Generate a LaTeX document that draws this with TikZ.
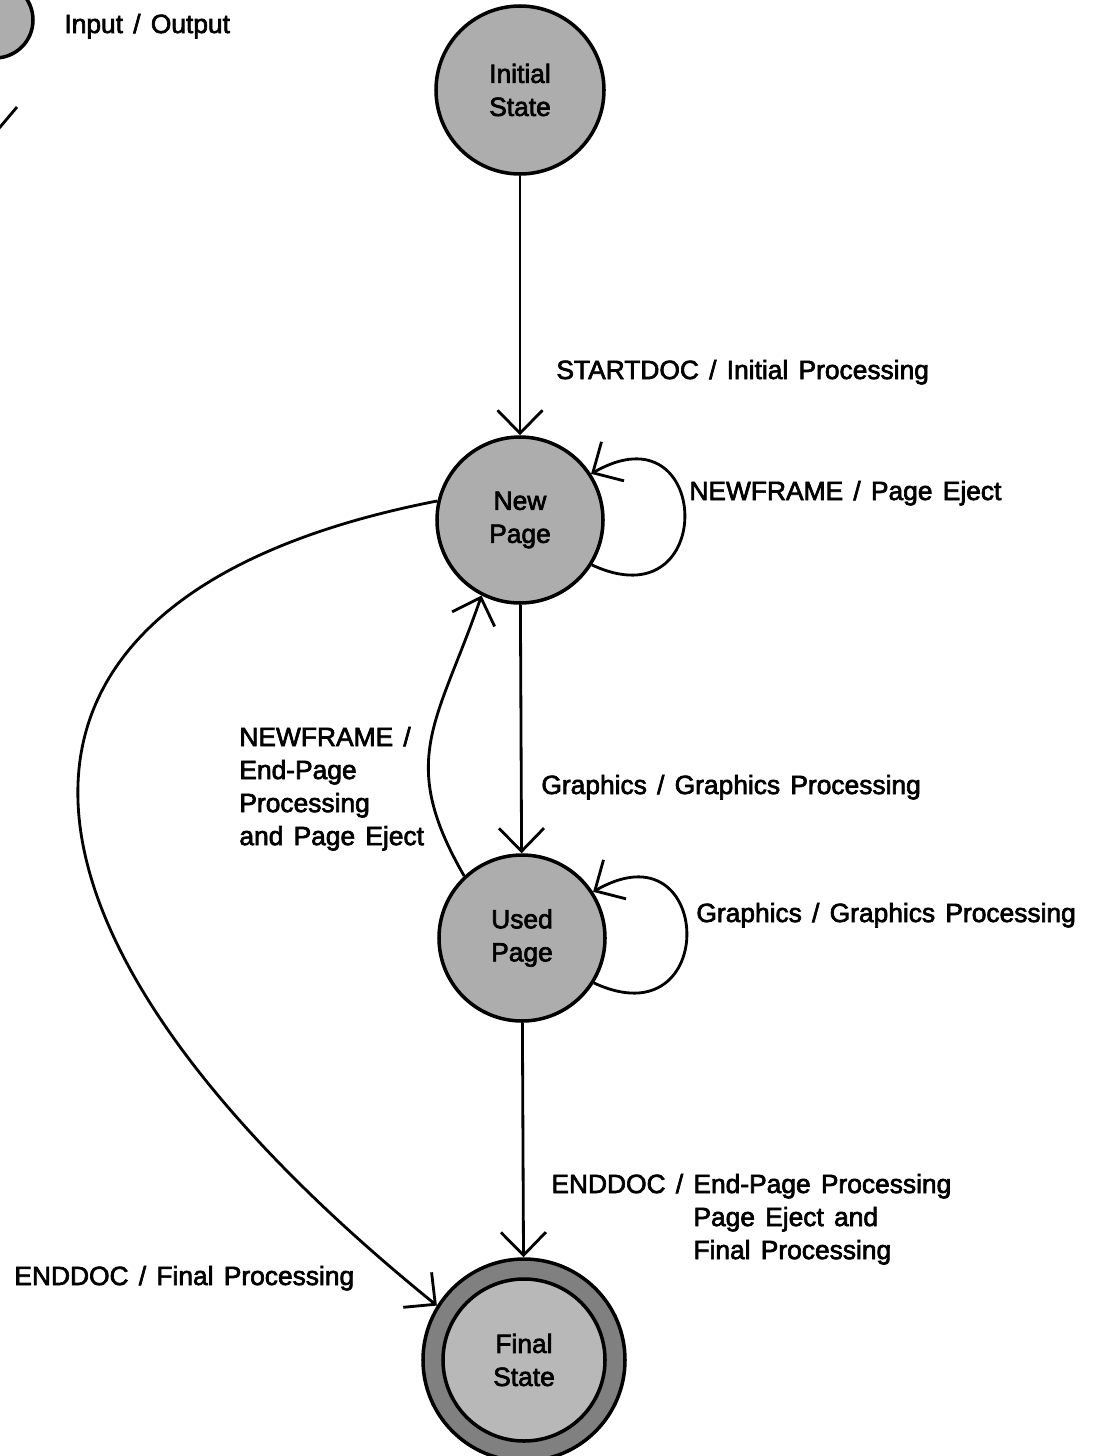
\documentclass[tikz,border=0pt]{standalone}
\usepackage{fontspec}
\setmainfont{Liberation Sans}[WordSpace=1.4, FakeBold=2.5]
\usepackage{tikz}
\usetikzlibrary{shapes,arrows,arrows.meta,positioning}

\begin{document}
\begin{tikzpicture}[every node/.style={font=\fontsize{15}{18.8}\selectfont},
  state/.style={circle, draw, line width=2pt, fill=black!32, minimum size=3.32cm, align=center, inner sep=0pt},
  lbl/.style={anchor=base west, inner sep=0pt},
  >={Straight Barb[length=4.6mm,width=9mm]}, line width=1.6pt]

\useasboundingbox (0,0) rectangle (22,-29.12);

% Legend
\node[state, minimum size=1.52cm] (io) at (-0.1,-0.4) {};
\node[lbl] (iolbl) at (1.26,-0.66) {Input / Output};
\coordinate (leg1) at (-0.2,-2.78);
\coordinate (leg2) at (0.34,-2.14);
\draw (leg1) -- (leg2);

% States
\node[state, minimum size=3.36cm] (init) at (10.4,-1.8) {Initial\\State};
\node[state] (newp) at (10.4,-10.4) {New\\Page};
\node[state] (used) at (10.44,-18.76) {Used\\Page};
\node[state, fill=black!50, minimum size=4.04cm] (final) at (10.48,-27.2) {};
\node[state, fill=black!28, minimum size=3.24cm] (finalin) at (10.48,-27.2) {Final\\State};

% Transitions
\foreach \a/\b in {init/newp,newp/used,used/final}
    \draw[->] (\a) -- (\b);

\foreach \s in {newp,used}
    \draw[->] (\s.-32) to[out=-25, in=30, distance=2.8cm] (\s.33);

\draw[->] (used.133) to[out=120, in=251, distance=2.7cm] (newp.243);
\draw[->] (newp.167) to[out=191, in=141, out distance=10cm, in distance=12cm] (final.148);

% Labels
\node[lbl] (l1) at (11.1,-7.58) {STARTDOC / Initial Processing};
\node[lbl] (l2) at (13.76,-10.0) {NEWFRAME / Page Eject};
\node[lbl] (l3) at (10.8,-15.88) {Graphics / Graphics Processing};
\node[lbl] (l4) at (13.9,-18.44) {Graphics / Graphics Processing};
\node[lbl] (l5) at (4.76,-14.92) {\begin{tabular}[t]{@{}l@{}}NEWFRAME /\\End-Page\\Processing\\and Page Eject\end{tabular}};
\node[lbl] (l6) at (11.0,-23.86) {ENDDOC / \begin{tabular}[t]{@{}l@{}}End-Page Processing\\Page Eject and\\Final Processing\end{tabular}};
\node[lbl] (l7) at (0.26,-25.7) {ENDDOC / Final Processing};

\end{tikzpicture}
\end{document}
